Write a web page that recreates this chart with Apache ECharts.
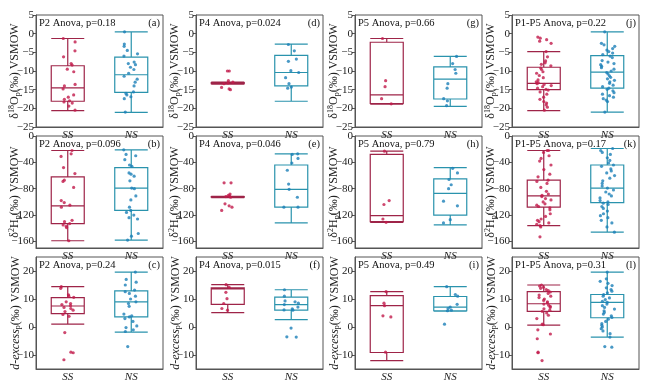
<!DOCTYPE html>
<html><head><meta charset="utf-8">
<script src="https://cdn.jsdelivr.net/npm/echarts@6/dist/echarts.min.js"></script>
<style>html,body{margin:0;padding:0;background:#fff}#c{width:650px;height:385px}</style>
</head><body><div id="c"></div>
<script>
const categories = ['SS', 'NS'];

// Row 1: δ18Op  (box = [min, Q1, median, Q3, max])
const o18_P2_SS_box = [-20.6, -18.1, -14.5, -8.6, -1.3];
const o18_P2_SS_pts = [-1.3, -2.2, -4.6, -6.2, -8.0, -8.4, -9.5, -10.2, -13.6, -14.0, -14.8, -16.4, -17.0, -17.6, -18.0, -18.3, -18.6, -19.4, -20.5];
const o18_P2_NS_box = [-21.1, -15.7, -11.0, -6.3, 0.5];
const o18_P2_NS_pts = [0.5, -2.8, -3.4, -4.5, -5.4, -6.0, -7.6, -8.0, -8.3, -9.0, -9.6, -10.6, -11.4, -12.2, -13.0, -14.0, -15.6, -16.0, -16.4, -16.9, -17.4, -21.0];

const o18_P4_SS_box = [-13.5, -13.4, -13.3, -13.1, -13.0];
const o18_P4_SS_pts = [-10.0, -10.0, -12.6, -13.0, -13.2, -13.4, -14.4, -14.8, -15.0];
const o18_P4_NS_box = [-18.1, -14.0, -10.4, -5.8, -2.8];
const o18_P4_NS_pts = [-2.9, -4.6, -6.8, -7.4, -9.9, -10.4, -11.8, -13.4, -14.3, -14.6];

const o18_P5_SS_box = [-18.9, -18.7, -16.4, -2.3, -1.3];
const o18_P5_SS_pts = [-1.3, -12.6, -14.2, -17.4, -18.8];
const o18_P5_NS_box = [-19.5, -17.5, -12.2, -8.9, -6.1];
const o18_P5_NS_pts = [-6.1, -8.0, -9.6, -10.6, -13.4, -14.6, -17.4, -18.0, -19.3];

const o18_All_SS_box = [-20.6, -15.0, -13.3, -9.0, -4.8];
const o18_All_SS_pts = [-0.9, -1.2, -1.6, -2.0, -2.6, -4.8, -6.2, -7.3, -7.8, -8.2, -8.6, -9.2, -9.6, -10.2, -10.6, -11.2, -11.8, -12.4, -12.9, -13.1, -13.4, -13.6, -13.9, -14.2, -14.6, -14.9, -15.1, -15.6, -16.2, -17.0, -17.6, -18.2, -18.6, -19.1, -19.7, -20.5];
const o18_All_NS_box = [-21.0, -14.6, -10.3, -5.9, 0.5];
const o18_All_NS_pts = [0.5, -2.6, -3.0, -3.4, -4.0, -4.4, -4.8, -5.2, -5.6, -6.0, -6.4, -7.2, -7.6, -8.0, -8.3, -8.7, -9.1, -9.5, -10.0, -10.4, -10.8, -11.3, -11.7, -12.1, -12.5, -12.9, -13.3, -13.8, -14.2, -14.6, -14.9, -15.3, -15.8, -16.2, -16.6, -17.0, -17.4, -17.8, -18.2, -21.0];

// Row 2: δ2Hp
const h2_P2_SS_box = [-159, -133, -106, -62, -22];
const h2_P2_SS_pts = [-22, -27, -31, -48, -57, -67, -69, -78, -98, -101, -105, -108, -128, -130, -133, -135, -137, -139, -159];
const h2_P2_NS_box = [-158, -113, -79, -48, -21];
const h2_P2_NS_pts = [-21, -28, -30, -36, -44, -46, -56, -58, -61, -68, -79, -80, -91, -97, -108, -113, -116, -120, -124, -126, -148, -152, -158];

const h2_P4_SS_box = [-93.5, -93, -92.5, -92, -91.5];
const h2_P4_SS_pts = [-71, -71, -88, -90, -91, -92, -93, -103, -106, -108, -113];
const h2_P4_NS_box = [-132, -108, -81, -44, -27];
const h2_P4_NS_pts = [-27, -28, -34, -41, -52, -73, -81, -93, -108, -108];

const h2_P5_SS_box = [-131, -130, -121, -28, -23];
const h2_P5_SS_pts = [-23, -98, -104, -126, -131];
const h2_P5_NS_box = [-135, -120, -87, -65, -48];
const h2_P5_NS_pts = [-49, -56, -66, -74, -80, -99, -106, -127, -132];

const h2_All_SS_box = [-136, -108, -91, -67, -22];
const h2_All_SS_pts = [-22, -22, -25, -30, -34, -38, -44, -51, -58, -62, -67, -69, -72, -78, -84, -88, -90, -92, -95, -97, -100, -103, -105, -107, -109, -112, -118, -122, -126, -128, -130, -132, -134, -136, -138, -153];
const h2_All_NS_box = [-146, -101, -79, -44, -19];
const h2_All_NS_pts = [-19, -22, -25, -28, -33, -37, -41, -44, -46, -50, -53, -56, -60, -64, -68, -72, -76, -79, -82, -85, -88, -91, -94, -98, -100, -102, -104, -107, -110, -114, -118, -121, -124, -128, -132, -138, -146];

// Row 3: d-excess
const d_P2_SS_box = [1.0, 4.8, 7.5, 10.5, 14.4];
const d_P2_SS_pts = [14.4, 13.8, 11.5, 11.0, 10.6, 9.0, 8.4, 8.0, 7.6, 7.0, 6.6, 6.0, 5.5, 4.5, 3.8, -2.0, -9.0, -9.2, -11.7];
const d_P2_NS_box = [-1.8, 3.6, 9.0, 12.9, 19.6];
const d_P2_NS_pts = [19.6, 17.0, 16.0, 15.0, 13.2, 12.6, 12.0, 11.0, 10.0, 9.0, 8.4, 7.4, 4.6, 4.0, 3.6, 3.0, 2.0, 0.4, -0.2, -1.0, -1.6, -7.0];

const d_P4_SS_box = [5.1, 8.1, 13.6, 14.0, 15.1];
const d_P4_SS_pts = [15.1, 14.2, 12.4, 10.1, 8.4, 6.6, 6.0];
const d_P4_NS_box = [2.6, 6.0, 8.0, 10.7, 13.3];
const d_P4_NS_pts = [13.3, 11.0, 9.3, 9.0, 8.5, 8.0, 7.1, 6.5, 6.1, 6.0, -0.4, -3.5, -3.6];

const d_P5_SS_box = [-12.0, -9.1, 7.6, 11.2, 12.6];
const d_P5_SS_pts = [12.6, 8.5, 7.6, 4.0, 3.6, -9.0];
const d_P5_NS_box = [5.7, 5.8, 7.1, 10.9, 14.4];
const d_P5_NS_pts = [14.4, 11.6, 11.0, 8.1, 7.1, 6.6, 6.0, 5.8, 1.0];

const d_All_SS_box = [0.7, 5.6, 8.3, 12.6, 15.0];
const d_All_SS_pts = [15.0, 14.6, 14.2, 13.8, 13.4, 13.0, 12.5, 12.0, 11.4, 11.0, 10.5, 10.0, 9.5, 9.0, 8.6, 8.2, 7.8, 7.4, 7.0, 6.5, 6.0, 5.6, 5.0, 4.2, 3.0, 1.0, 0.8, -1.0, -2.5, -4.2, -9.0, -9.2, -12.0];
const d_All_NS_box = [-3.6, 3.3, 8.8, 11.6, 19.6];
const d_All_NS_pts = [19.6, 17.2, 16.3, 15.6, 14.8, 14.0, 13.4, 12.8, 12.2, 11.6, 11.0, 10.4, 9.8, 9.2, 8.8, 8.2, 7.6, 7.0, 6.4, 5.8, 5.2, 4.6, 4.0, 3.4, 2.8, 2.0, 1.2, 0.6, 0.0, -0.6, -1.4, -2.4, -3.6, -7.0, -7.2];

// Titles
const row1Titles = ['P2 Anova, p=0.18', 'P4 Anova, p=0.024', 'P5 Anova, p=0.66', 'P1-P5 Anova, p=0.22'];
const row2Titles = ['P2 Anova, p=0.096', 'P4 Anova, p=0.046', 'P5 Anova, p=0.79', 'P1-P5 Anova, p=0.17'];
const row3Titles = ['P2 Anova, p=0.24', 'P4 Anova, p=0.015', 'P5 Anova, p=0.49', 'P1-P5 Anova, p=0.31'];
const tags = [['(a)', '(d)', '(g)', '(j)'], ['(b)', '(e)', '(h)', '(k)'], ['(c)', '(f)', '(i)', '(l)']];

// Axis ticks
const row1Ticks = [-25, -20, -15, -10, -5, 0, 5];
const row2Ticks = [-160, -120, -80, -40, 0];
const row3Ticks = [-10, 0, 10, 20];

const rowData = [
  [[o18_P2_SS_box, o18_P2_SS_pts, o18_P2_NS_box, o18_P2_NS_pts],
   [o18_P4_SS_box, o18_P4_SS_pts, o18_P4_NS_box, o18_P4_NS_pts],
   [o18_P5_SS_box, o18_P5_SS_pts, o18_P5_NS_box, o18_P5_NS_pts],
   [o18_All_SS_box, o18_All_SS_pts, o18_All_NS_box, o18_All_NS_pts]],
  [[h2_P2_SS_box, h2_P2_SS_pts, h2_P2_NS_box, h2_P2_NS_pts],
   [h2_P4_SS_box, h2_P4_SS_pts, h2_P4_NS_box, h2_P4_NS_pts],
   [h2_P5_SS_box, h2_P5_SS_pts, h2_P5_NS_box, h2_P5_NS_pts],
   [h2_All_SS_box, h2_All_SS_pts, h2_All_NS_box, h2_All_NS_pts]],
  [[d_P2_SS_box, d_P2_SS_pts, d_P2_NS_box, d_P2_NS_pts],
   [d_P4_SS_box, d_P4_SS_pts, d_P4_NS_box, d_P4_NS_pts],
   [d_P5_SS_box, d_P5_SS_pts, d_P5_NS_box, d_P5_NS_pts],
   [d_All_SS_box, d_All_SS_pts, d_All_NS_box, d_All_NS_pts]]
];
const rowTitles = [row1Titles, row2Titles, row3Titles];
const rowRanges = [[-25, 5], [-170, 0], [-15, 25]];
const rowTicks = [row1Ticks, row2Ticks, row3Ticks];
const rowNames = [
  'δ{sup|18}O{sub|p}(‰) VSMOW',
  'δ{sup|2}H{sub|p}(‰) VSMOW',
  '{it|d-excess}{sub|p}(‰) VSMOW'
];

// Layout
const colLeft = [36, 196, 355, 512];
const colWidth = 127;
const rowTop = [15, 136, 257];
const rowHeight = 112;

const SERIF = 'Liberation Serif, Times New Roman, serif';
const SS_LINE = '#9e2448', SS_PT = '#c21a4b';
const NS_LINE = '#2a93ad', NS_PT = '#1b80b8';
const AX = '#555';

const grid = [], xAxis = [], yAxis = [], series = [], title = [];
let idx = 0;
for (let r = 0; r < 3; r++) {
  for (let c = 0; c < 4; c++) {
    const [ssBox, ssPts, nsBox, nsPts] = rowData[r][c];
    grid.push({left: colLeft[c], top: rowTop[r], width: colWidth, height: rowHeight,
      show: true, borderColor: AX, borderWidth: 1, backgroundColor: 'transparent'});
    xAxis.push({type: 'category', gridIndex: idx, data: categories,
      jitter: 15, jitterOverlap: true,
      axisLine: {show: true, onZero: false, lineStyle: {color: AX}},
      axisTick: {show: false},
      axisLabel: {fontFamily: SERIF, fontStyle: 'italic', fontSize: 11, color: '#222', margin: 3},
      splitLine: {show: false}});
    yAxis.push({type: 'value', gridIndex: idx, min: rowRanges[r][0], max: rowRanges[r][1],
      name: rowNames[r], nameLocation: 'middle', nameGap: 14, nameMoveOverlap: false,
      nameTextStyle: {fontFamily: SERIF, fontSize: 12, color: '#222',
        rich: {
          sup: {fontFamily: SERIF, fontSize: 8, color: '#222', verticalAlign: 'top', lineHeight: 14},
          sub: {fontFamily: SERIF, fontSize: 8, color: '#222', verticalAlign: 'bottom', lineHeight: 12},
          it: {fontFamily: SERIF, fontSize: 12, fontStyle: 'italic', color: '#222'}
        }},
      axisLine: {show: true, onZero: false, lineStyle: {color: AX}},
      axisTick: {show: true, length: 3, lineStyle: {color: AX}, customValues: rowTicks[r]},
      axisLabel: {fontFamily: SERIF, fontSize: 11, color: '#222', margin: 2, customValues: rowTicks[r],
        formatter: v => String(v).replace('-', '\u2212')},
      splitLine: {show: false}});
    series.push({type: 'boxplot', xAxisIndex: idx, yAxisIndex: idx, boxWidth: [33, 33], z: 2,
      itemStyle: {color: 'transparent', borderWidth: 1.2},
      emphasis: {disabled: true},
      data: [{value: ssBox, itemStyle: {borderColor: SS_LINE, color: 'transparent'}},
             {value: nsBox, itemStyle: {borderColor: NS_LINE, color: 'transparent'}}]});
    series.push({type: 'scatter', xAxisIndex: idx, yAxisIndex: idx, symbolSize: 3.2, z: 3,
      itemStyle: {color: SS_PT}, data: ssPts.map(v => [categories[0], v])});
    series.push({type: 'scatter', xAxisIndex: idx, yAxisIndex: idx, symbolSize: 3.2, z: 3,
      itemStyle: {color: NS_PT}, data: nsPts.map(v => [categories[1], v])});
    title.push({text: rowTitles[r][c], left: colLeft[c] + 3, top: rowTop[r] + 3, padding: 0,
      textStyle: {fontFamily: SERIF, fontSize: 10.5, fontWeight: 'normal', color: '#111'}});
    title.push({text: tags[r][c], right: 650 - colLeft[c] - colWidth + 3, top: rowTop[r] + 3, padding: 0,
      textStyle: {fontFamily: SERIF, fontSize: 10.5, fontWeight: 'normal', color: '#111'}});
    idx++;
  }
}

const chart = echarts.init(document.getElementById('c'), null, {renderer: 'canvas'});
chart.setOption({animation: false, backgroundColor: '#fff', grid, xAxis, yAxis, series, title});
</script>
</body></html>
